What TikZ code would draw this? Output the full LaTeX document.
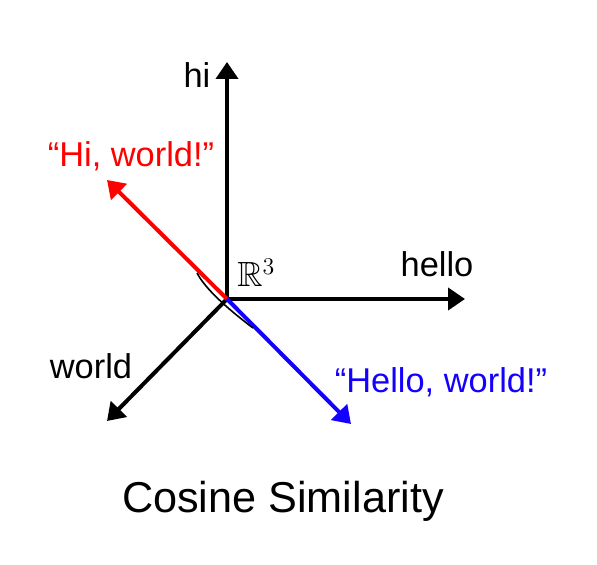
\documentclass[tikz,border=0pt]{standalone}
\usepackage{fontspec}
\setmainfont{Liberation Sans}
\usepackage{amsmath,amssymb}
\definecolor{vecred}{RGB}{255,0,0}
\definecolor{vecblue}{RGB}{20,0,255}
\usetikzlibrary{arrows.meta,positioning,calc}

\begin{document}
\begin{tikzpicture}[x=0.5pt,y=-0.5pt,
    vec/.style={line width=2pt, -{Triangle[length=8.5pt,width=11pt]}},
    lbl/.style={font=\fontsize{17.2}{20}\selectfont, inner sep=0pt, anchor=base}]
  \useasboundingbox (0,0) rectangle (597,565);

  % origin and arrow tips
  \coordinate (o) at (227,299);
  \coordinate (hi) at (227,62);
  \coordinate (hello) at (465,299);
  \coordinate (world) at (107,421);
  \coordinate (hiworld) at (107,180);
  \coordinate (helloworld) at (351,424);

  % axes
  \draw[vec] (o) -- (hi);
  \draw[vec] (o) -- (hello);
  \draw[vec] (o) -- (world);

  % the two vectors
  \draw[vec, vecred] (o) -- (hiworld);
  \draw[vec, vecblue] (o) -- (helloworld);

  % angle between them
  \coordinate (arcA) at (197,273);
  \coordinate (arcB) at (253,328);
  \draw[line width=0.8pt] (arcA) .. controls (205,288) and (224,306) .. (arcB);

  % labels
  \node[lbl] (hilbl) at (197,88) {hi};
  \node[lbl] (hellolbl) at (437,277) {hello};
  \node[lbl] (worldlbl) at (91,378) {world};
  \node[lbl, vecred] (hiworldlbl) at (131,167) {“Hi, world!”};
  \node[lbl, vecblue] (helloworldlbl) at (441,392) {“Hello, world!”};
  \node[inner sep=0pt, anchor=base west, font=\fontsize{17.5}{20}\selectfont] (space) at (237,287) {$\mathbb{R}^3$};

  \node[inner sep=0pt, anchor=base, font=\fontsize{21.6}{25}\selectfont] (title) at (283,512) {Cosine Similarity};
\end{tikzpicture}
\end{document}
